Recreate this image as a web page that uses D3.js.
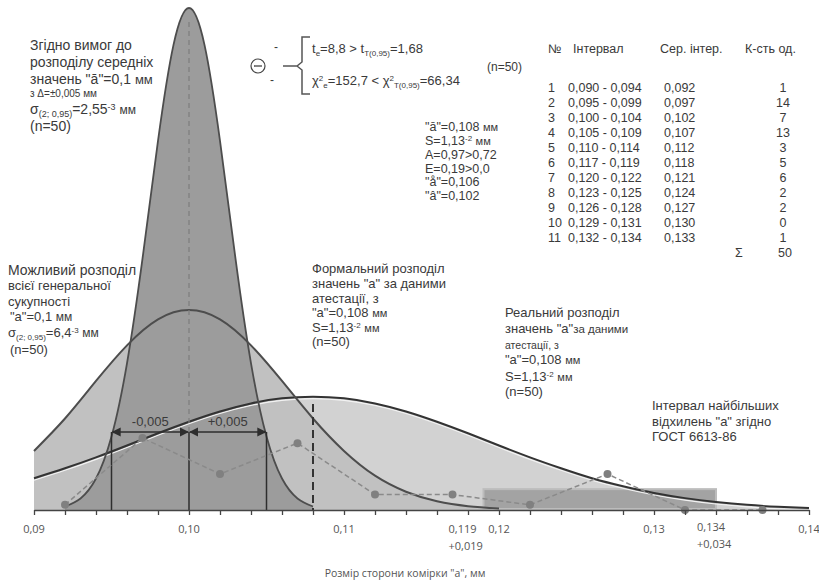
<!DOCTYPE html>
<html>
<head>
<meta charset="utf-8">
<script src="https://cdn.jsdelivr.net/npm/d3@7"></script>
<style>
  body { margin: 0; background: #fff; }
  svg { display: block; font-family: 'Liberation Sans', Arial, sans-serif; }
  .lbl { fill: #3a3a3a; }
  .ax { fill: #555; font-family: 'Open Sans', sans-serif; font-size: 11px; }
</style>
</head>
<body>
<svg id="chart" width="819" height="581"></svg>
<script>
// axis
const xTicks = [0.09, 0.10, 0.11, 0.12, 0.13, 0.14]
const xTickLabels = ['0,09', '0,10', '0,11', '0,12', '0,13', '0,14']

// curve heights (density units)
const narrowX = [0.092, 0.093, 0.094, 0.095, 0.096, 0.097, 0.098, 0.099, 0.100,
  0.101, 0.102, 0.103, 0.104, 0.105, 0.106, 0.107, 0.108]
const narrowY = [1.1, 3.6, 9.8, 22.9, 45.7, 78.3, 115.0, 144.9, 156.4,
  144.9, 115.0, 78.3, 45.7, 22.9, 9.8, 3.6, 1.1]

const mediumX = [0.090, 0.092, 0.094, 0.096, 0.098, 0.100, 0.102, 0.104,
  0.106, 0.108, 0.110, 0.112, 0.114, 0.116, 0.118, 0.120]
const mediumY = [18.4, 28.5, 40.2, 51.3, 59.4, 62.3, 59.4, 51.3,
  40.2, 28.5, 18.4, 10.7, 5.7, 2.7, 1.2, 0.5]

const wideX = [0.090, 0.092, 0.094, 0.096, 0.098, 0.100, 0.102, 0.104, 0.106,
  0.108, 0.110, 0.112, 0.114, 0.116, 0.118, 0.120, 0.122, 0.124, 0.126,
  0.128, 0.130, 0.132, 0.134, 0.136, 0.138, 0.140]
const wideY = [9.9, 13.0, 16.4, 20.1, 23.9, 27.5, 30.7, 33.2, 34.8,
  35.3, 34.8, 33.2, 30.7, 27.5, 23.9, 20.1, 16.4, 13.0, 9.9,
  7.4, 5.3, 3.7, 2.5, 1.6, 1.0, 0.6]

// frequency polygon (counts)
const freqX = [0.092, 0.097, 0.102, 0.107, 0.112, 0.117, 0.122, 0.127, 0.132, 0.137]
const freqN = [1, 14, 7, 13, 3, 3, 1, 7, 0, 0]

// tolerance marks and GOST interval
const tolX = [0.095, 0.100, 0.105]
const gostBand = [0.119, 0.134]

// table
const tabNo = ['1', '2', '3', '4', '5', '6', '7', '8', '9', '10', '11']
const tabInterval = ['0,090 - 0,094', '0,095 - 0,099', '0,100 - 0,104', '0,105 - 0,109',
  '0,110 - 0,114', '0,117 - 0,119', '0,120 - 0,122', '0,123 - 0,125',
  '0,126 - 0,128', '0,129 - 0,131', '0,132 - 0,134']
const tabMid = ['0,092', '0,097', '0,102', '0,107', '0,112', '0,118', '0,121',
  '0,124', '0,127', '0,130', '0,133']
const tabCount = ['1', '14', '7', '13', '3', '5', '6', '2', '2', '0', '1']

const svg = d3.select('#chart')

const x = d3.scaleLinear().domain([0.09, 0.14]).range([34, 809])
const yDen = d3.scaleLinear().domain([0, 156.4]).range([510, 8])
const yCnt = d3.scaleLinear().domain([0, 14]).range([510, 438])

const pts = (xs, ys) => xs.map((v, i) => [v, ys[i]])
const area = d3.area().x(d => x(d[0])).y0(yDen(0)).y1(d => yDen(d[1])).curve(d3.curveNatural)
const line = d3.line().x(d => x(d[0])).y(d => yDen(d[1])).curve(d3.curveNatural)

const wide = pts(wideX, wideY)
const medium = pts(mediumX, mediumY)
const narrow = pts(narrowX, narrowY)

// fills
svg.append('path').attr('d', area(wide)).attr('fill', '#d2d2d2')
svg.append('path').attr('d', area(medium)).attr('fill', '#c1c1c1')
svg.append('path').attr('d', area(narrow)).attr('fill', '#9c9c9c')

// GOST box
svg.append('rect')
  .attr('x', x(gostBand[0])).attr('width', x(gostBand[1]) - x(gostBand[0]))
  .attr('y', yDen(6.5)).attr('height', yDen(0) - yDen(6.5) - 1)
  .attr('fill', '#a3a3a3').attr('stroke', '#bcbcbc').attr('stroke-width', 2)

// outlines
svg.append('path').attr('d', line(wide)).attr('transform', 'translate(0,2)')
  .attr('fill', 'none').attr('stroke', '#f2f2f2').attr('stroke-width', 1.2)
svg.append('path').attr('d', line(wide)).attr('fill', 'none').attr('stroke', '#333').attr('stroke-width', 2)
svg.append('path').attr('d', line(medium)).attr('fill', 'none').attr('stroke', '#4d4d4d').attr('stroke-width', 2)
svg.append('path').attr('d', line(narrow)).attr('fill', 'none').attr('stroke', '#4d4d4d').attr('stroke-width', 1.8)

const arrowY = yDen(24.3)

// centre dashed line
svg.append('line').attr('x1', x(0.1)).attr('x2', x(0.1)).attr('y1', yDen(152)).attr('y2', arrowY)
  .attr('stroke', '#7d7d7d').attr('stroke-width', 1.2).attr('stroke-dasharray', '5,4')

// tolerance verticals
svg.selectAll('.tol').data(tolX).join('line')
  .attr('x1', d => x(d)).attr('x2', d => x(d)).attr('y1', arrowY).attr('y2', yDen(0))
  .attr('stroke', '#2e2e2e').attr('stroke-width', 1.5)

svg.append('defs').append('marker')
  .attr('id', 'arr').attr('viewBox', '0 0 10 10').attr('refX', 9).attr('refY', 5)
  .attr('markerWidth', 7).attr('markerHeight', 7).attr('orient', 'auto-start-reverse')
  .append('path').attr('d', 'M0,0 L10,5 L0,10 z').attr('fill', '#2e2e2e')

const spans = [[0.095, 0.100, '-0,005'], [0.100, 0.105, '+0,005']]
spans.forEach(s => {
  svg.append('line').attr('x1', x(s[0]) + 1).attr('x2', x(s[1]) - 1).attr('y1', arrowY).attr('y2', arrowY)
    .attr('stroke', '#2e2e2e').attr('stroke-width', 1.3)
    .attr('marker-start', 'url(#arr)').attr('marker-end', 'url(#arr)')
  svg.append('text').attr('class', 'lbl').attr('x', (x(s[0]) + x(s[1])) / 2).attr('y', arrowY - 6)
    .attr('text-anchor', 'middle').style('font-size', '13px').text(s[2])
})

// mean of real distribution
svg.append('line').attr('x1', x(0.108)).attr('x2', x(0.108)).attr('y1', yDen(33)).attr('y2', yDen(0))
  .attr('stroke', '#333').attr('stroke-width', 2).attr('stroke-dasharray', '8,5')

// frequency polygon
const freq = pts(freqX, freqN)
svg.append('path')
  .attr('d', d3.line().x(d => x(d[0])).y(d => yCnt(d[1]))(freq))
  .attr('fill', 'none').attr('stroke', '#8a8a8a').attr('stroke-width', 1.5).attr('stroke-dasharray', '5,3')
svg.selectAll('.dot').data(freq).join('circle')
  .attr('cx', d => x(d[0])).attr('cy', d => yCnt(d[1])).attr('r', 4).attr('fill', '#808080')

// axis
const ax = svg.append('g').attr('transform', `translate(0,${yDen(0)})`)
  .call(d3.axisBottom(x).tickValues(d3.range(0.09, 0.1401, 0.002)).tickSize(5).tickSizeOuter(0).tickFormat(''))
ax.selectAll('path, line').attr('stroke', '#444').attr('stroke-width', 1.3)

svg.selectAll('.tl').data(xTicks).join('text').attr('class', 'ax')
  .attr('x', d => x(d)).attr('y', 533).attr('text-anchor', 'middle')
  .text((d, i) => xTickLabels[i])

const extra = [[0.119, '0,119', '+0,019', -35, 533], [0.134, '0,134', '+0,034', -19, 531]]
extra.forEach(e => {
  svg.append('text').attr('class', 'ax').attr('x', x(e[0]) + e[3]).attr('y', e[4]).text(e[1])
  svg.append('text').attr('class', 'ax').attr('x', x(e[0]) + e[3]).attr('y', e[4] + 17).text(e[2])
})

svg.append('text').attr('class', 'ax').attr('x', 405).attr('y', 577).attr('text-anchor', 'middle')
  .style('font-size', '10.5px').text('Розмір сторони  комірки "а", мм')

// rich text helper: parts are strings or [text, 'sub'|'sup'|null, size]
function rich(px, py, parts, size) {
  const t = svg.append('text').attr('class', 'lbl').attr('x', px).attr('y', py).style('font-size', size + 'px')
  let shift = 0
  parts.forEach(p => {
    const [str, kind, fs] = typeof p === 'string' ? [p, null, null] : p
    const target = kind === 'sub' ? 2.5 : kind === 'sup' ? -4 : 0
    const ts = t.append('tspan').attr('dy', target - shift).text(str)
    if (kind) ts.style('font-size', Math.round(size * 0.62) + 'px')
    if (fs) ts.style('font-size', fs + 'px')
    shift = target
  })
  return t
}

// top left
rich(30, 50, ['Згідно вимог до'], 14)
rich(30, 67, ['розподілу середніх'], 14)
rich(30, 84, ['значень "ā"=0,1 ', ['мм', null, 13]], 14)
rich(30, 97, ['з Δ=±0,005 мм'], 10)
rich(30, 114, ['σ', ['(2; 0,95)', 'sub'], '=2,55', ['-3', 'sup'], ' ', ['мм', null, 12]], 14)
rich(30, 131, ['(n=50)'], 14)

// criteria
svg.append('circle').attr('cx', 258).attr('cy', 66).attr('r', 7).attr('fill', 'none').attr('stroke', '#444').attr('stroke-width', 1.2)
svg.append('line').attr('x1', 254).attr('x2', 262).attr('y1', 66).attr('y2', 66).attr('stroke', '#444').attr('stroke-width', 1.3)
rich(274, 51, ['-'], 12)
rich(270, 84, ['-'], 12)
svg.append('path').attr('d', 'M310,37 H302 V62 L297,66 H283 M297,66 L302,70 V94 H310')
  .attr('fill', 'none').attr('stroke', '#555').attr('stroke-width', 1.5)
rich(312, 53, ['t', ['e', 'sub'], '=8,8 > t', ['T(0,95)', 'sub'], '=1,68'], 13)
rich(312, 85, ['χ', ['2', 'sup'], ['e', 'sub'], '=152,7 < χ', ['2', 'sup'], ['T(0,95)', 'sub'], '=66,34'], 13)
rich(487, 71, ['(n=50)'], 12)

// stats
rich(425, 131, ['"ā"=0,108 ', ['мм', null, 11]], 12.5)
rich(425, 145, ['S=1,13', ['-2', 'sup'], ' ', ['мм', null, 11]], 12.5)
rich(425, 159, ['A=0,97>0,72'], 12.5)
rich(425, 172.5, ['E=0,19>0,0'], 12.5)
rich(425, 186, ['"å"=0,106'], 12.5)
rich(425, 199.5, ['"â"=0,102'], 12.5)

// table
const tab = svg.append('g').attr('class', 'lbl').style('font-size', '12.5px')
tab.append('text').attr('x', 548).attr('y', 53).text('№')
tab.append('text').attr('x', 573).attr('y', 53).text('Інтервал')
tab.append('text').attr('x', 660).attr('y', 53).text('Сер. інтер.')
tab.append('text').attr('x', 745).attr('y', 53).text('К-сть од.')
tabNo.forEach((n, i) => {
  const ry = 92 + i * 15
  tab.append('text').attr('x', 548).attr('y', ry).text(n)
  tab.append('text').attr('x', 568).attr('y', ry).text(tabInterval[i])
  tab.append('text').attr('x', 664).attr('y', ry).text(tabMid[i])
  tab.append('text').attr('x', 783).attr('y', ry).attr('text-anchor', 'middle').text(tabCount[i])
})
tab.append('text').attr('x', 735).attr('y', 92 + 11 * 15).text('Σ')
tab.append('text').attr('x', 785).attr('y', 92 + 11 * 15).attr('text-anchor', 'middle').text('50')

// possible distribution
rich(8, 275, ['Можливий розподіл'], 14)
rich(8, 290, ['всієї генеральної'], 13)
rich(8, 306, ['сукупності'], 13)
rich(10, 321, ['"а"=0,1 ', ['мм', null, 12]], 13)
rich(8, 337, ['σ', ['(2; 0,95)', 'sub'], '=6,4', ['-3', 'sup'], ' ', ['мм', null, 12]], 13)
rich(10, 354, ['(n=50)'], 13)

// formal distribution
rich(312, 273, ['Формальний розподіл'], 13)
rich(312, 288, ['значень "а" за даними'], 13)
rich(312, 303, ['атестації, з'], 13)
rich(312, 317, ['"а"=0,108 ', ['мм', null, 11]], 13)
rich(312, 332, ['S=1,13', ['-2', 'sup'], ' ', ['мм', null, 11]], 13)
rich(312, 346, ['(n=50)'], 13)

// real distribution
rich(505, 317, ['Реальний розподіл'], 13)
rich(505, 333, ['значень "а"', ['за даними', null, 11.5]], 13)
rich(505, 349, ['атестації, з'], 10.5)
rich(505, 364, ['"а"=0,108 ', ['мм', null, 11]], 13)
rich(505, 381, ['S=1,13', ['-2', 'sup'], ' ', ['мм', null, 11]], 13)
rich(505, 396, ['(n=50)'], 13)

// GOST label
rich(652, 410, ['Інтервал найбільших'], 13)
rich(652, 426, ['відхилень "а" згідно'], 13)
rich(652, 441, ['ГОСТ 6613-86'], 13)
</script>
</body>
</html>
